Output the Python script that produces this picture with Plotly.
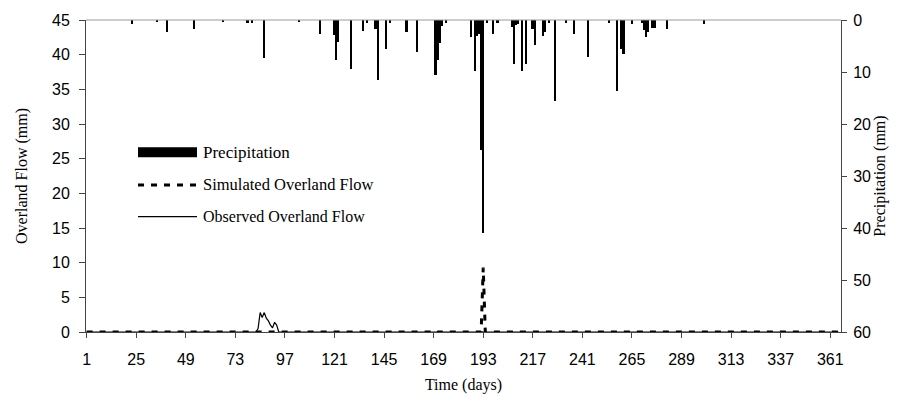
import plotly.graph_objects as go

# ---------------- data ----------------
n_days = 365
tick_days = [1, 25, 49, 73, 97, 121, 145, 169, 193, 217, 241, 265, 289, 313, 337, 361]

# precipitation (mm), days with rain
precip_days = [23, 35, 40, 53, 67, 79, 81, 87, 104, 114, 121, 122, 123, 129, 135, 137,
               141, 142, 146, 148, 156, 161, 170, 171, 172, 173, 175, 187, 189, 190, 191,
               192, 193, 195, 198, 200, 207, 208, 209, 210, 212, 214, 217, 218, 222, 223,
               225, 228, 233, 237, 244, 254, 258, 260, 261, 265, 270, 271, 272, 273, 275,
               276, 282, 300]
precip_mm = [0.8, 0.3, 2.3, 1.7, 0.3, 0.5, 0.5, 7.4, 0.3, 2.6, 2.8, 7.7, 4.2, 9.4, 2.1, 0.5,
             1.7, 11.5, 5.6, 0.5, 2.3, 6.1, 10.6, 7.7, 4.4, 1.1, 0.5, 3.2, 9.8, 3.0, 2.7,
             25.0, 41.0, 0.6, 2.7, 0.5, 1.3, 8.4, 1.0, 0.8, 9.8, 8.5, 1.7, 4.9, 3.1, 2.4,
             0.5, 15.6, 0.5, 2.6, 7.1, 0.5, 13.7, 5.5, 6.6, 0.8, 0.5, 2.0, 3.2, 2.4, 1.6,
             1.5, 1.7, 0.7]

# observed overland flow (mm), non-zero days
obs_days = [84, 85, 86, 87, 88, 89, 90, 91, 92, 93]
obs_mm = [0.5, 2.8, 2.1, 2.8, 2.0, 1.6, 1.0, 0.6, 1.4, 1.0]

# simulated overland flow (mm), non-zero days
sim_days = [170, 193]
sim_mm = [0.2, 9.3]

# ---------------- build daily series ----------------
days = list(range(1, n_days + 1))
obs_series = [0.0] * n_days
for d, v in zip(obs_days, obs_mm):
    obs_series[d - 1] = v
sim_series = [0.0] * n_days
for d, v in zip(sim_days, sim_mm):
    sim_series[d - 1] = v

SERIF = "Times New Roman, Liberation Serif, serif"
SANS = "Arial, Liberation Sans, sans-serif"

fig = go.Figure()

fig.add_trace(go.Bar(
    x=precip_days, y=precip_mm, yaxis="y2", width=0.8,
    marker=dict(color="black", line=dict(width=0)),
    name="Precipitation", showlegend=False,
))
fig.add_trace(go.Scatter(
    x=days, y=obs_series, mode="lines",
    line=dict(color="black", width=1.2),
    name="Observed Overland Flow", showlegend=False,
))
fig.add_trace(go.Scatter(
    x=days, y=sim_series, mode="lines",
    line=dict(color="black", width=3, dash="6px,7px"),
    name="Simulated Overland Flow", showlegend=False,
))

# ---------------- custom legend ----------------
lx0, lx1, tx = 0.0689, 0.147, 0.152
fig.add_shape(type="rect", xref="paper", yref="paper",
              x0=lx0, x1=lx1, y0=0.560, y1=0.592,
              fillcolor="black", line=dict(width=0))
fig.add_shape(type="line", xref="paper", yref="paper",
              x0=lx0, x1=lx1, y0=0.4715, y1=0.4715,
              line=dict(color="black", width=3, dash="6px,7px"))
fig.add_shape(type="line", xref="paper", yref="paper",
              x0=lx0, x1=lx1, y0=0.370, y1=0.370,
              line=dict(color="black", width=1.2))
for yy, txt, sz in [(0.576, "Precipitation", 17), (0.4715, "Simulated Overland Flow", 16.5),
                    (0.370, "Observed Overland Flow", 16)]:
    fig.add_annotation(xref="paper", yref="paper", x=tx, y=yy, text=txt,
                       showarrow=False, xanchor="left", yanchor="middle",
                       font=dict(family=SERIF, size=sz, color="black"))

# top frame line
fig.add_shape(type="line", xref="paper", yref="paper", x0=0, x1=1, y0=1, y1=1,
              line=dict(color="#9a9a9a", width=1))

fig.update_layout(
    width=906, height=415,
    margin=dict(l=86, r=65, t=16, b=83),
    paper_bgcolor="white", plot_bgcolor="white",
    bargap=0,
    xaxis=dict(
        range=[0.7, 366.2], tickmode="array", tickvals=tick_days,
        ticktext=[str(t) for t in tick_days],
        ticks="outside", ticklen=5, tickcolor="#444", tickwidth=1,
        showline=True, linecolor="#444", linewidth=1,
        showgrid=False, zeroline=False,
        tickfont=dict(family=SANS, size=16, color="black"),
        ticklabelstandoff=8,
        title=dict(text="Time (days)", font=dict(family=SERIF, size=16, color="black"),
                   standoff=11),
    ),
    yaxis=dict(
        range=[0, 45], tickmode="array", tickvals=list(range(0, 46, 5)),
        ticks="outside", ticklen=6, tickcolor="#444", tickwidth=1,
        showline=True, linecolor="#444", linewidth=1,
        showgrid=False, zeroline=False,
        tickfont=dict(family=SANS, size=16, color="black"),
        ticklabelstandoff=6,
        title=dict(text="Overland Flow (mm)", font=dict(family=SERIF, size=16, color="black"),
                   standoff=20),
    ),
    yaxis2=dict(
        range=[60, 0], overlaying="y", side="right",
        tickmode="array", tickvals=list(range(0, 61, 10)),
        ticks="outside", ticklen=5, tickcolor="#444", tickwidth=1,
        showline=True, linecolor="#444", linewidth=1,
        showgrid=False, zeroline=False,
        tickfont=dict(family=SANS, size=16, color="black"),
        ticklabelstandoff=3,
        title=dict(text="Precipitation (mm)", font=dict(family=SERIF, size=16, color="black"),
                   standoff=2),
    ),
)

fig.write_html("out.html")
